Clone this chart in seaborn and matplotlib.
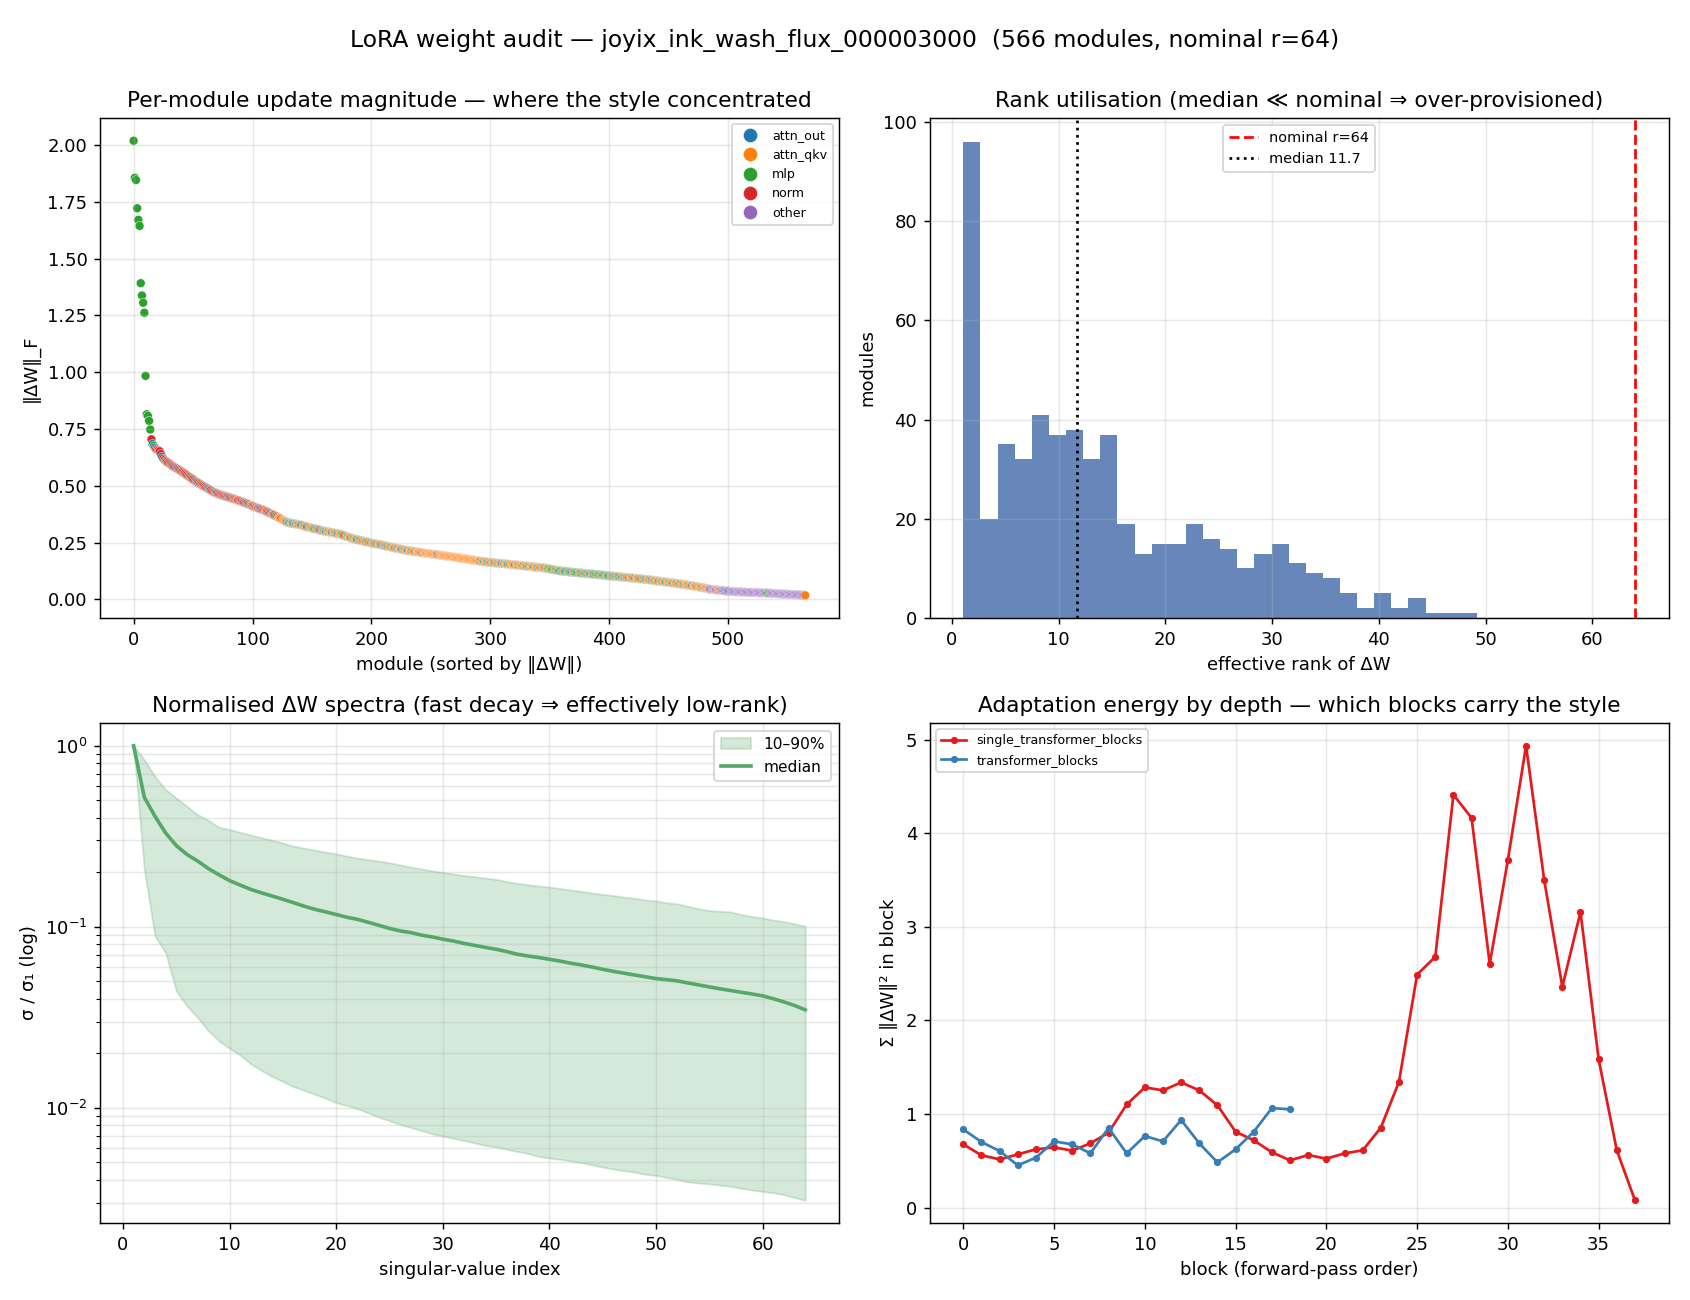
"""LoRA weight audit figure: module norms, rank use, spectra, depth energy."""

import matplotlib

matplotlib.use("Agg")
import matplotlib.pyplot as plt
import numpy as np
import pandas as pd
import seaborn as sns

TITLE = "LoRA weight audit \u2014 joyix_ink_wash_flux_000003000  (566 modules, nominal r=64)"

# --- per-module Frobenius norms, sorted (10 per row) ---
MODULE_NORMS = [
    2.019, 1.856, 1.846, 1.722, 1.671, 1.644, 1.392, 1.338, 1.306, 1.262,
    0.984, 0.815, 0.808, 0.786, 0.748, 0.705, 0.684, 0.676, 0.668, 0.661,
    0.658, 0.655, 0.652, 0.640, 0.628, 0.620, 0.614, 0.609, 0.605, 0.601,
    0.598, 0.594, 0.590, 0.586, 0.583, 0.580, 0.577, 0.574, 0.571, 0.568,
    0.564, 0.561, 0.557, 0.554, 0.550, 0.546, 0.542, 0.539, 0.535, 0.531,
    0.528, 0.524, 0.520, 0.517, 0.514, 0.511, 0.508, 0.504, 0.501, 0.498,
    0.495, 0.492, 0.489, 0.486, 0.483, 0.480, 0.476, 0.473, 0.471, 0.469,
    0.467, 0.465, 0.463, 0.461, 0.459, 0.457, 0.456, 0.454, 0.452, 0.451,
    0.449, 0.448, 0.446, 0.444, 0.443, 0.441, 0.439, 0.437, 0.436, 0.434,
    0.432, 0.430, 0.428, 0.426, 0.424, 0.422, 0.420, 0.418, 0.415, 0.413,
    0.411, 0.409, 0.407, 0.405, 0.403, 0.401, 0.399, 0.397, 0.395, 0.393,
    0.392, 0.389, 0.386, 0.384, 0.381, 0.379, 0.376, 0.374, 0.371, 0.368,
    0.366, 0.363, 0.360, 0.357, 0.354, 0.351, 0.348, 0.345, 0.342, 0.340,
    0.338, 0.337, 0.336, 0.335, 0.334, 0.333, 0.332, 0.331, 0.330, 0.329,
    0.328, 0.327, 0.326, 0.324, 0.322, 0.320, 0.319, 0.318, 0.317, 0.315,
    0.314, 0.313, 0.311, 0.310, 0.309, 0.308, 0.306, 0.305, 0.303, 0.302,
    0.301, 0.300, 0.299, 0.298, 0.297, 0.296, 0.295, 0.294, 0.293, 0.292,
    0.291, 0.290, 0.289, 0.288, 0.287, 0.285, 0.283, 0.281, 0.279, 0.277,
    0.275, 0.274, 0.272, 0.270, 0.269, 0.267, 0.266, 0.264, 0.263, 0.262,
    0.261, 0.259, 0.258, 0.257, 0.256, 0.254, 0.253, 0.252, 0.251, 0.249,
    0.248, 0.247, 0.246, 0.245, 0.244, 0.243, 0.242, 0.241, 0.240, 0.239,
    0.238, 0.236, 0.235, 0.234, 0.233, 0.232, 0.231, 0.229, 0.228, 0.227,
    0.226, 0.225, 0.224, 0.223, 0.222, 0.221, 0.220, 0.219, 0.218, 0.217,
    0.216, 0.215, 0.214, 0.213, 0.213, 0.212, 0.211, 0.210, 0.209, 0.208,
    0.208, 0.207, 0.206, 0.205, 0.205, 0.204, 0.203, 0.202, 0.202, 0.201,
    0.200, 0.200, 0.199, 0.198, 0.197, 0.197, 0.196, 0.195, 0.194, 0.194,
    0.193, 0.192, 0.192, 0.191, 0.190, 0.189, 0.189, 0.188, 0.187, 0.186,
    0.186, 0.185, 0.184, 0.183, 0.183, 0.182, 0.181, 0.180, 0.179, 0.179,
    0.178, 0.177, 0.176, 0.175, 0.174, 0.173, 0.173, 0.172, 0.171, 0.170,
    0.169, 0.169, 0.168, 0.167, 0.167, 0.166, 0.165, 0.165, 0.164, 0.163,
    0.163, 0.162, 0.162, 0.161, 0.161, 0.160, 0.160, 0.159, 0.159, 0.158,
    0.158, 0.157, 0.157, 0.156, 0.156, 0.155, 0.155, 0.154, 0.154, 0.153,
    0.153, 0.152, 0.152, 0.151, 0.150, 0.150, 0.149, 0.149, 0.148, 0.147,
    0.147, 0.146, 0.146, 0.145, 0.145, 0.144, 0.144, 0.143, 0.142, 0.142,
    0.141, 0.141, 0.140, 0.140, 0.139, 0.139, 0.138, 0.137, 0.136, 0.135,
    0.134, 0.133, 0.132, 0.131, 0.130, 0.129, 0.128, 0.127, 0.126, 0.126,
    0.125, 0.124, 0.124, 0.123, 0.123, 0.122, 0.121, 0.121, 0.120, 0.120,
    0.119, 0.119, 0.118, 0.118, 0.117, 0.117, 0.116, 0.116, 0.115, 0.115,
    0.114, 0.114, 0.113, 0.113, 0.112, 0.112, 0.111, 0.111, 0.110, 0.110,
    0.109, 0.109, 0.108, 0.108, 0.107, 0.107, 0.106, 0.106, 0.105, 0.104,
    0.104, 0.103, 0.103, 0.102, 0.102, 0.101, 0.101, 0.100, 0.100, 0.099,
    0.099, 0.098, 0.098, 0.097, 0.097, 0.096, 0.096, 0.095, 0.095, 0.094,
    0.094, 0.093, 0.093, 0.092, 0.092, 0.091, 0.090, 0.090, 0.089, 0.089,
    0.088, 0.088, 0.087, 0.087, 0.086, 0.085, 0.085, 0.084, 0.083, 0.082,
    0.082, 0.081, 0.080, 0.080, 0.079, 0.078, 0.078, 0.077, 0.076, 0.076,
    0.075, 0.074, 0.074, 0.073, 0.072, 0.072, 0.071, 0.070, 0.069, 0.068,
    0.068, 0.067, 0.066, 0.065, 0.065, 0.064, 0.063, 0.062, 0.061, 0.060,
    0.060, 0.059, 0.058, 0.057, 0.056, 0.055, 0.054, 0.053, 0.052, 0.051,
    0.050, 0.049, 0.048, 0.047, 0.046, 0.045, 0.044, 0.044, 0.043, 0.042,
    0.042, 0.041, 0.041, 0.040, 0.040, 0.039, 0.039, 0.038, 0.037, 0.037,
    0.036, 0.036, 0.035, 0.035, 0.035, 0.034, 0.034, 0.034, 0.033, 0.033,
    0.033, 0.033, 0.032, 0.032, 0.032, 0.032, 0.031, 0.031, 0.031, 0.031,
    0.031, 0.030, 0.030, 0.030, 0.030, 0.030, 0.030, 0.029, 0.029, 0.029,
    0.029, 0.029, 0.028, 0.028, 0.028, 0.027, 0.027, 0.027, 0.026, 0.026,
    0.026, 0.025, 0.025, 0.025, 0.024, 0.024, 0.024, 0.023, 0.023, 0.023,
    0.023, 0.022, 0.022, 0.022, 0.022, 0.021, 0.021, 0.021, 0.021, 0.020,
    0.020, 0.020, 0.019, 0.019, 0.019, 0.018,
]

# module kind per sorted module, same 10-per-row layout as above
# o=attn_out q=attn_qkv m=mlp n=norm x=other
MODULE_KINDS = (
    "mmmmmmmmmm" "mmmmmnomon" "nnnnonnmnn" "nnmnnnonnn" "mnnnnnnnmn"
    "nnnonnmnnn" "nnonmnnnnm" "nnonnnnmnn" "onnnmnnqnn" "nnmnnonnmq"
    "nnmnqnonnm" "nqnnmnoqnn" "mnqqnqqqqo" "qomqmoqoqm" "qmoqmqnoqm"
    "qqmoqmqnoq" "mqoqmqqoqq" "mqoqqmqnoq" "mqqoqmqqom" "qoqmqqoqmq"
    "oqqmqoqqmo" "qqoqmqqoqq" "mqoqqqoqmq" "qoqqmqqoqq" "qqqoqqqqqq"
    "qqqqqqoqqq" "qqqqqqqqqq" "qqqqqqqqqq" "qqqqqqqqqq" "qqoqqmqqoq"
    "qmqqoqqmqq" "oqmqqoqmqq" "qoqqmqqqoq" "qmqoqqqmqq" "oqqmqqoqqm"
    "mqmoqmmqmo" "mmqmomqmmo" "qmmomqmmoq" "mmoqmmqomm" "qmomqmmoqm"
    "omqmoqmqmo" "qmqoqmqoqq" "mqoqqmqoqm" "qoqqmqoqqm" "qqoqqmqqoq"
    "qmqqoqqmqq" "oqqmqqqmqq" "oqqqmqqqmq" "qqxqqxoxxq" "xxqxxqxxox"
    "xoxxxxxxxx" "xxxxxxxxxx" "xxxxxxxxxx" "xxxxmmxxxx" "xxxxxxxxxx"
    "xxxxxxxxxx" "xxxxxq"
)
KIND_NAMES = {"o": "attn_out", "q": "attn_qkv", "m": "mlp", "n": "norm", "x": "other"}
KIND_ORDER = ["attn_out", "attn_qkv", "mlp", "norm", "other"]

# --- effective-rank histogram (30 equal bins) ---
RANK_LO, RANK_HI = 1.08, 49.2
RANK_COUNTS = [96, 20, 35, 32, 41, 37, 38, 32, 37, 19,
               13, 15, 15, 19, 16, 14, 10, 13, 15, 11,
               9, 8, 5, 2, 5, 2, 4, 1, 1, 1]
NOMINAL_RANK = 64
MEDIAN_RANK = 11.7

# --- normalised singular-value spectra, index 1..64 ---
SV_INDEX = list(range(1, 65))
SV_MEDIAN = [
    1.000, 0.520, 0.408, 0.330, 0.281, 0.251, 0.231, 0.210, 0.194, 0.180,
    0.170, 0.161, 0.154, 0.148, 0.142, 0.136, 0.130, 0.125, 0.121, 0.117,
    0.113, 0.110, 0.106, 0.102, 0.098, 0.095, 0.093, 0.090, 0.088, 0.0855,
    0.0835, 0.081, 0.079, 0.077, 0.0752, 0.073, 0.0706, 0.069, 0.0677, 0.0662,
    0.0647, 0.063, 0.0616, 0.060, 0.0583, 0.0568, 0.0555, 0.0542, 0.053, 0.0518,
    0.0511, 0.0503, 0.049, 0.0478, 0.0466, 0.0455, 0.0445, 0.0435, 0.0426, 0.0416,
    0.0401, 0.0385, 0.0368, 0.0348,
]
SV_P90 = [
    1.000, 0.837, 0.677, 0.573, 0.515, 0.463, 0.417, 0.388, 0.355, 0.345,
    0.333, 0.321, 0.311, 0.301, 0.290, 0.279, 0.272, 0.265, 0.259, 0.253,
    0.246, 0.240, 0.235, 0.231, 0.226, 0.220, 0.214, 0.209, 0.204, 0.200,
    0.196, 0.192, 0.189, 0.186, 0.183, 0.178, 0.174, 0.171, 0.168, 0.166,
    0.163, 0.160, 0.157, 0.154, 0.151, 0.149, 0.146, 0.144, 0.141, 0.139,
    0.136, 0.134, 0.130, 0.126, 0.123, 0.122, 0.121, 0.117, 0.114, 0.112,
    0.109, 0.107, 0.104, 0.101,
]
SV_P10 = [
    1.000, 0.207, 0.089, 0.072, 0.0443, 0.0366, 0.0316, 0.0267, 0.0235, 0.0213,
    0.0196, 0.0175, 0.0161, 0.0149, 0.0140, 0.0131, 0.0125, 0.0119, 0.0113, 0.0107,
    0.0103, 0.0099, 0.0094, 0.0089, 0.0085, 0.0081, 0.0078, 0.0075, 0.0072, 0.0070,
    0.0068, 0.0066, 0.0064, 0.0062, 0.0061, 0.0059, 0.00575, 0.0056, 0.0054, 0.00528,
    0.0052, 0.0051, 0.00498, 0.00485, 0.00471, 0.0046, 0.0045, 0.00442, 0.0043, 0.00424,
    0.00413, 0.00403, 0.0039, 0.00385, 0.00381, 0.00375, 0.00369, 0.0036, 0.00352, 0.00346,
    0.0034, 0.00332, 0.0032, 0.00309,
]

# --- adaptation energy per block ---
SINGLE_BLOCKS = [
    0.676, 0.559, 0.516, 0.569, 0.623, 0.644, 0.609, 0.687, 0.801, 1.103,
    1.285, 1.253, 1.338, 1.253, 1.093, 0.811, 0.719, 0.591, 0.505, 0.562,
    0.523, 0.580, 0.612, 0.854, 1.345, 2.491, 2.680, 4.413, 4.164, 2.605,
    3.715, 4.936, 3.502, 2.359, 3.160, 1.584, 0.612, 0.078,
]
DOUBLE_BLOCKS = [
    0.836, 0.701, 0.605, 0.452, 0.534, 0.708, 0.676, 0.580, 0.851, 0.580,
    0.765, 0.708, 0.936, 0.687, 0.484, 0.623, 0.811, 1.064, 1.050,
]


def main() -> None:
    fig, axes = plt.subplots(2, 2, figsize=(13, 10), dpi=130)
    fig.subplots_adjust(left=0.0592, right=0.9873, top=0.9092, bottom=0.0592,
                        wspace=0.123, hspace=0.21)
    fig.suptitle(TITLE, fontsize=13, y=0.978)

    # per-module magnitudes
    ax = axes[0, 0]
    mods = pd.DataFrame({
        "idx": np.arange(len(MODULE_NORMS)),
        "norm": MODULE_NORMS,
        "kind": [KIND_NAMES[c] for c in MODULE_KINDS],
    })
    sns.scatterplot(data=mods, x="idx", y="norm", hue="kind", hue_order=KIND_ORDER,
                    palette="tab10", s=24, linewidth=0.25, ax=ax)
    ax.legend(loc="upper right", fontsize=7, markerscale=1.6)
    ax.set_title("Per-module update magnitude \u2014 where the style concentrated")
    ax.set_xlabel("module (sorted by \u2016\u0394W\u2016)")
    ax.set_ylabel("\u2016\u0394W\u2016_F")
    ax.grid(alpha=0.3)

    # rank utilisation
    ax = axes[0, 1]
    width = (RANK_HI - RANK_LO) / len(RANK_COUNTS)
    centers = RANK_LO + width * (np.arange(len(RANK_COUNTS)) + 0.5)
    sns.histplot(x=centers, weights=RANK_COUNTS, bins=len(RANK_COUNTS),
                 binrange=(RANK_LO, RANK_HI), color="#4C72B0", alpha=0.85,
                 linewidth=0, ax=ax)
    ax.axvline(NOMINAL_RANK, color="red", ls="--", lw=1.5, label=f"nominal r={NOMINAL_RANK}")
    ax.axvline(MEDIAN_RANK, color="black", ls=":", lw=1.5, label=f"median {MEDIAN_RANK}")
    ax.legend(loc="upper center", fontsize=8)
    ax.set_title("Rank utilisation (median \u226a nominal \u21d2 over-provisioned)")
    ax.set_xlabel("effective rank of \u0394W")
    ax.set_ylabel("modules")
    ax.grid(alpha=0.3)

    # spectra
    ax = axes[1, 0]
    ax.fill_between(SV_INDEX, SV_P10, SV_P90, color="#55a868", alpha=0.25, label="10\u201390%")
    sns.lineplot(x=SV_INDEX, y=SV_MEDIAN, color="#55a868", lw=2, label="median", ax=ax)
    ax.set_yscale("log")
    ax.legend(loc="upper right", fontsize=8.5)
    ax.set_title("Normalised \u0394W spectra (fast decay \u21d2 effectively low-rank)")
    ax.set_xlabel("singular-value index")
    ax.set_ylabel("\u03c3 / \u03c3\u2081 (log)")
    ax.grid(alpha=0.3, which="both")

    # energy by depth
    ax = axes[1, 1]
    sns.lineplot(x=np.arange(len(SINGLE_BLOCKS)), y=SINGLE_BLOCKS, color="#e41a1c",
                 marker="o", markersize=4, markeredgewidth=0, lw=1.5,
                 label="single_transformer_blocks", ax=ax)
    sns.lineplot(x=np.arange(len(DOUBLE_BLOCKS)), y=DOUBLE_BLOCKS, color="#377eb8",
                 marker="o", markersize=4, markeredgewidth=0, lw=1.5,
                 label="transformer_blocks", ax=ax)
    ax.legend(loc="upper left", fontsize=7)
    ax.set_title("Adaptation energy by depth \u2014 which blocks carry the style")
    ax.set_xlabel("block (forward-pass order)")
    ax.set_ylabel("\u03a3 \u2016\u0394W\u2016\u00b2 in block")
    ax.grid(alpha=0.3)

    fig.savefig("out.png", dpi=130)
    plt.close(fig)


if __name__ == "__main__":
    main()
